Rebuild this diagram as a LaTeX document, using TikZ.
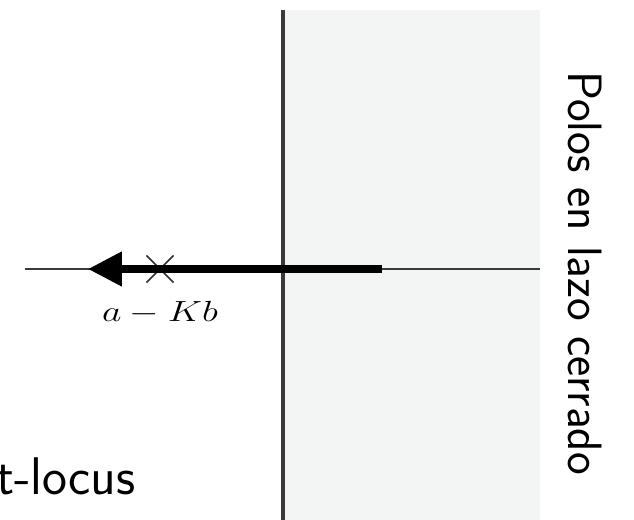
\documentclass[tikz,border=0pt]{standalone}
\usepackage{amsmath}
\usetikzlibrary{arrows.meta, positioning, shapes.misc}
\definecolor{rhpshade}{HTML}{F3F4F4}
\definecolor{axisgray}{HTML}{3A3A3A}
\definecolor{crossgray}{HTML}{2E2E2E}

\begin{document}
\begin{tikzpicture}[
    axis/.style={axisgray, line width=2pt},
    locus/.style={black, line width=0.18cm, -{Triangle[length=0.85cm, width=0.83cm]}},
    polemark/.style={cross out, draw=crossgray, line width=1.1pt, minimum size=0.64cm, inner sep=0pt},
    polelabel/.style={font=\fontsize{20}{24}\selectfont, inner sep=0pt, xscale=1.3, transform shape},
    sidetext/.style={font=\fontsize{34.3}{40}\selectfont\sffamily, inner sep=0pt}
  ]

% Frame and clipping
\useasboundingbox (-7.075,-6.275) rectangle (8.775,6.725);
\clip (-7.075,-6.275) rectangle (8.775,6.725);

% Right half plane
\fill[rhpshade] (0,-6.275) rectangle (6.425,6.475);

% Axes
\coordinate (o) at (0,0);
\draw[axis] (-6.45,0) -- (6.425,0);
\draw[axis, line width=2.6pt] (0,6.475) -- (0,-6.275);

% Open loop pole
\node[polemark] (pole) at (-3.075,0) {};
\node[polelabel, anchor=base] (polelbl) at (-3.075,-1.325) {$a - Kb$};

% Closed loop pole path
\coordinate (start) at (2.475,0);
\coordinate (tip) at (-4.875,0);
\draw[locus] (start) -- (tip);

% Side texts
\node[sidetext, rotate=-90, anchor=base west] (cl) at (7.125,4.95) {Polos en lazo cerrado};
\node[sidetext, font=\fontsize{37.7}{44}\selectfont\sffamily, anchor=base east] (rl) at (-3.675,-5.65) {t-locus};

\end{tikzpicture}
\end{document}
